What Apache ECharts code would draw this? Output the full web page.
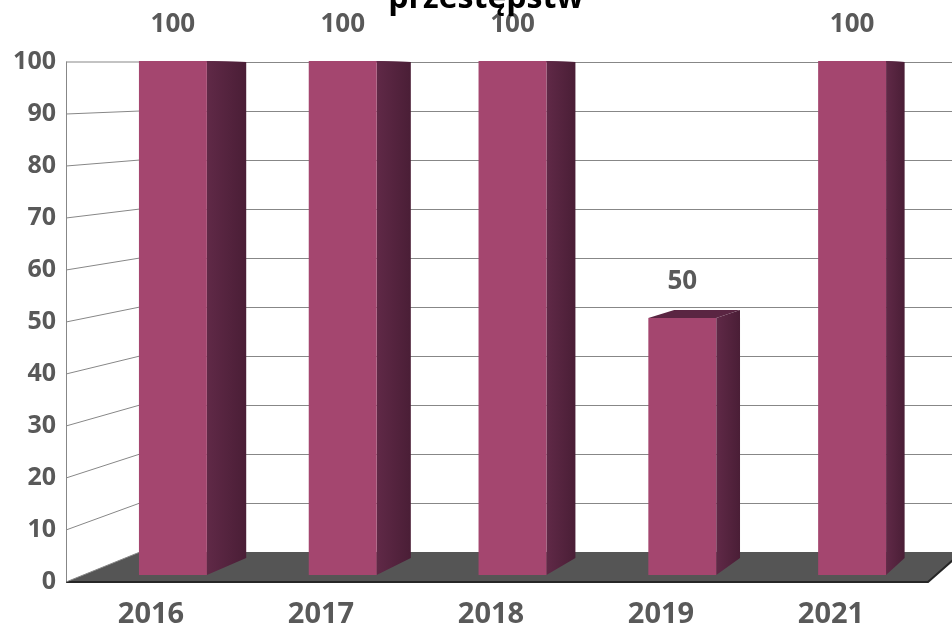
<!DOCTYPE html>
<html><head><meta charset="utf-8">
<script src="https://cdn.jsdelivr.net/npm/echarts@6/dist/echarts.min.js"></script>
<style>html,body{margin:0;padding:0;background:#fff}#c{width:952px;height:632px}</style>
</head><body><div id="c"></div>
<script>
const categories = ['2016', '2017', '2018', '2019', '2021'];
const values = [100, 100, 100, 50, 100];
const yTicks = [0, 10, 20, 30, 40, 50, 60, 70, 80, 90, 100];
const titleText = 'przestępstw';

const chart = echarts.init(document.getElementById('c'), null, {renderer: 'canvas'});
function px(g, pt) { return chart.convertToPixel({gridIndex: g}, pt); }

const FONT = '"Open Sans", sans-serif';
const TXT = '#595959';
const GRID = '#878787';

const option = {
  animation: false,
  graphic: [{
    type: 'text', x: 486, y: -17, z: 10,
    style: {text: titleText, align: 'center', font: 'bold 32px "Open Sans", sans-serif', fill: '#000'}
  }],
  grid: [
    {left: 66, right: 36, top: 62, bottom: 50, outerBoundsMode: 'none'},
    {left: 140, width: 822, top: 62, bottom: 80, outerBoundsMode: 'none'},
    {left: 88, right: 15, top: 61, bottom: 57, outerBoundsMode: 'none'},
    {left: 131, width: 823, top: 62, bottom: 74, outerBoundsMode: 'none'}
  ],
  xAxis: [
    {gridIndex: 0, type: 'category', data: categories, axisLine: {show: false}, axisTick: {show: false},
     axisLabel: {fontSize: 29, fontWeight: 'bold', color: TXT, fontFamily: FONT, margin: 18}},
    {gridIndex: 1, type: 'value', min: 0, max: 1, show: false},
    {gridIndex: 2, type: 'category', data: categories, show: false},
    {gridIndex: 3, type: 'category', data: categories, show: false}
  ],
  yAxis: [
    {gridIndex: 0, type: 'value', min: 0, max: 100, interval: 10,
     axisLine: {show: true, lineStyle: {color: GRID}}, axisTick: {show: false}, splitLine: {show: false},
     axisLabel: {fontSize: 25, fontWeight: 'bold', color: TXT, fontFamily: FONT, margin: 10}},
    {gridIndex: 1, type: 'value', min: 0, max: 100, interval: 10,
     axisLine: {show: false}, axisTick: {show: false}, axisLabel: {show: false},
     splitLine: {show: true, lineStyle: {color: GRID, width: 1}}},
    {gridIndex: 2, type: 'value', min: 0, max: 100, show: false},
    {gridIndex: 3, type: 'value', min: 0, max: 100, show: false}
  ],
  series: [
    {
      type: 'custom', xAxisIndex: 0, yAxisIndex: 0, data: [[0, 0]], silent: true,
      renderItem: function (params, api) {
        const cs = params.coordSys;
        const fl = [cs.x, cs.y + cs.height];
        const fr = [cs.x + cs.width + 12, cs.y + cs.height];
        const bl = px(1, [0, 0]);
        const br = px(1, [1, 0]);
        return {type: 'group', children: [
          {type: 'polygon', shape: {points: [fl, bl, br, fr]}, style: {fill: '#555555'}},
          {type: 'polyline', shape: {points: [fl, fr, br]}, style: {stroke: '#262626', lineWidth: 2, fill: null}}
        ]};
      }
    },
    {
      type: 'custom', xAxisIndex: 0, yAxisIndex: 0, silent: true,
      data: yTicks.map(v => [0, v]),
      renderItem: function (params, api) {
        const cs = params.coordSys;
        const v = api.value(1);
        const y0 = api.coord([0, v])[1];
        const b = px(1, [0, v]);
        return {type: 'line', shape: {x1: cs.x, y1: y0, x2: b[0], y2: b[1]},
                style: {stroke: GRID, lineWidth: 1}};
      }
    },
    {
      type: 'custom', xAxisIndex: 2, yAxisIndex: 2, silent: true,
      data: values.map((v, i) => [i, v]),
      renderItem: function (params, api) {
        const i = api.value(0), v = api.value(1);
        const ft = api.coord([i, v]), fb = api.coord([i, 0]);
        const bw = api.size([1, 0])[0] * 0.4;
        const fl = ft[0] - bw / 2, fr = ft[0] + bw / 2;
        const bt = px(3, [i, v]), bb = px(3, [i, 0]);
        const bbw = (px(3, [1, 0])[0] - px(3, [0, 0])[0]) * 0.4;
        const bl = bt[0] - bbw / 2, br = bt[0] + bbw / 2;
        return {type: 'group', children: [
          {type: 'polygon', shape: {points: [[fl, ft[1]], [bl, bt[1]], [br, bt[1]], [fr, ft[1]]]},
           style: {fill: '#5a2542'}},
          {type: 'polygon', shape: {points: [[fr, ft[1]], [br, bt[1]], [br, bb[1]], [fr, fb[1]]]},
           style: {fill: new echarts.graphic.LinearGradient(0, 0, 1, 0, [
             {offset: 0, color: '#602947'}, {offset: 1, color: '#4a1e36'}])}},
          {type: 'rect', shape: {x: fl, y: ft[1], width: bw, height: fb[1] - ft[1]},
           style: {fill: '#A4466F'}},
          {type: 'text', style: {text: String(v), x: ft[0], y: ft[1] - 36, align: 'center',
           verticalAlign: 'middle', font: 'bold 26px "Open Sans", sans-serif', fill: TXT}}
        ]};
      }
    }
  ]
};
chart.setOption(option);
</script>
</body></html>
